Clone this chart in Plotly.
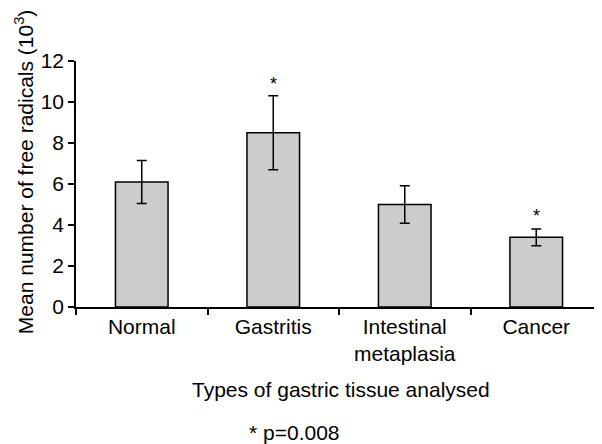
import plotly.graph_objects as go

categories = ["Normal", "Gastritis", "Intestinal<br>metaplasia", "Cancer"]
means = [6.1, 8.5, 5.0, 3.4]
errors = [1.05, 1.8, 0.92, 0.41]
star_y = [None, 10.9, None, 4.45]
y_ticks = [0, 2, 4, 6, 8, 10, 12]

FONT = "Liberation Sans, Arial, sans-serif"
FS = 21

fig = go.Figure()
fig.add_trace(go.Bar(
    x=categories, y=means, width=0.4,
    marker=dict(color="#cccccc", line=dict(color="black", width=1.5)),
    error_y=dict(type="data", array=errors, visible=True, color="black",
                 thickness=1.5, width=5),
))

for c, s in zip(categories, star_y):
    if s is not None:
        fig.add_annotation(x=c, y=s, text="*", showarrow=False,
                           font=dict(size=18, color="black", family=FONT),
                           yanchor="middle", xanchor="center")

fig.add_annotation(xref="paper", yref="paper", x=-0.099, y=0.552,
                   xanchor="center", yanchor="middle",
                   text="Mean number of free radicals (10<sup>3</sup>)",
                   textangle=-90, showarrow=False,
                   font=dict(size=FS, color="black", family=FONT))
fig.add_annotation(xref="paper", yref="paper", x=0.504, y=-0.337,
                   xanchor="center", yanchor="middle",
                   text="Types of gastric tissue analysed", showarrow=False,
                   font=dict(size=FS, color="black", family=FONT))
fig.add_annotation(xref="paper", yref="paper", x=0.415, y=-0.512,
                   xanchor="center", yanchor="middle",
                   text="* p=0.008", showarrow=False,
                   font=dict(size=FS, color="black", family=FONT))

fig.update_layout(
    width=594, height=436,
    margin=dict(l=68, r=0, t=53, b=137),
    plot_bgcolor="white", paper_bgcolor="white",
    showlegend=False,
    font=dict(family=FONT, size=FS, color="black"),
    xaxis=dict(range=[-0.5, 3.5], showline=True, linecolor="black", linewidth=1.5,
               ticks="outside", tickson="boundaries", ticklen=6, tickcolor="black",
               tickwidth=1.5, showgrid=False, tickfont=dict(size=FS, color="black")),
    yaxis=dict(range=[0, 12], tickvals=y_ticks, showline=True, linecolor="black",
               linewidth=1.5, ticks="outside", ticklen=6, tickcolor="black",
               tickwidth=1.5, showgrid=False, zeroline=False,
               tickfont=dict(size=FS, color="black")),
)

fig.write_html("out.html")
